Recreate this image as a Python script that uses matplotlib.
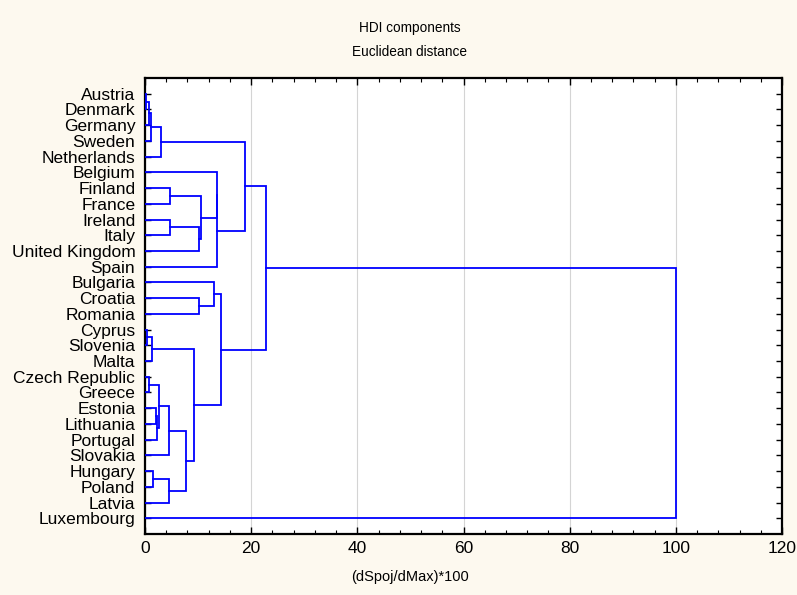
import matplotlib
matplotlib.use("Agg")
import matplotlib.pyplot as plt
from matplotlib.ticker import MultipleLocator

plt.rcParams['font.family'] = ['Liberation Sans', 'DejaVu Sans']

labels = ["Austria", "Denmark", "Germany", "Sweden", "Netherlands", "Belgium",
          "Finland", "France", "Ireland", "Italy", "United Kingdom", "Spain",
          "Bulgaria", "Croatia", "Romania", "Cyprus", "Slovenia", "Malta",
          "Czech Republic", "Greece", "Estonia", "Lithuania", "Portugal",
          "Slovakia", "Hungary", "Poland", "Latvia", "Luxembourg"]

# Linkage (cluster ids: leaves 0..27, merges create 28, 29, ...)
merge_left = [0, 28, 29, 30, 6, 8, 33, 32, 5, 36, 31, 13, 12, 15, 41, 18, 20, 44, 43, 46,
              24, 48, 47, 42, 40, 38, 53]
merge_right = [1, 2, 3, 4, 7, 9, 10, 34, 35, 11, 37, 14, 39, 16, 17, 19, 21, 22, 45, 23,
               25, 26, 49, 50, 51, 52, 27]
merge_height = [0.25, 0.8, 1.1, 3.1, 4.8, 4.8, 10.2, 10.5, 13.5, 13.6, 18.9, 10.2, 13.0,
                0.3, 1.4, 0.75, 2.1, 2.3, 2.6, 4.5, 1.6, 4.6, 7.7, 9.3, 14.3, 22.8, 100.0]

fig = plt.figure(figsize=(7.97, 5.95), dpi=100)
fig.patch.set_facecolor('#fdf9ef')
top_px, bot_px = 78, 534
ax = fig.add_axes([145/797, 1-bot_px/595, (782-145)/797, (bot_px-top_px)/595])
ax.set_facecolor('white')

pos = {i: float(i) for i in range(len(labels))}
hgt = {i: 0.0 for i in range(len(labels))}
n = len(labels)
for k, (a, b, h) in enumerate(zip(merge_left, merge_right, merge_height)):
    ya, yb = pos[a], pos[b]
    ax.plot([hgt[a], h, h, hgt[b]], [ya, ya, yb, yb], color='#0000ff', lw=1.3,
            solid_joinstyle='miter', zorder=3)
    pos[n + k] = (ya + yb) / 2
    hgt[n + k] = h

ax.set_xlim(0, 120)
ax.set_ylim(n, -1)
ax.xaxis.set_major_locator(MultipleLocator(20))
ax.xaxis.set_minor_locator(MultipleLocator(4))
ax.set_yticks(range(n))
ax.set_yticklabels(labels, fontsize=12.5)
ax.tick_params(axis='x', which='major', direction='in', length=5, width=1,
               top=True, labelsize=12.5, pad=5)
ax.tick_params(axis='x', which='minor', direction='in', length=3, width=0.8, top=True)
ax.tick_params(axis='y', which='major', direction='in', length=4, width=1,
               right=True, pad=7)
ax.grid(axis='x', which='major', color='#d4d4d4', lw=0.8, zorder=0)
for s in ax.spines.values():
    s.set_linewidth(1.6)
    s.set_color('black')

fig.text(410/797, 1-28/595, "HDI components", ha='center', va='center', fontsize=9.8)
fig.text(410/797, 1-52/595, "Euclidean distance", ha='center', va='center', fontsize=9.8)
fig.text(410/797, 1-577/595, "(dSpoj/dMax)*100", ha='center', va='center', fontsize=10.5)

fig.savefig("out.png", dpi=100, facecolor=fig.get_facecolor())
